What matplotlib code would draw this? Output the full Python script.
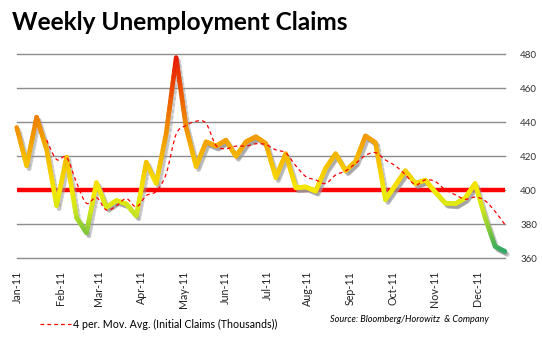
import numpy as np
import matplotlib
matplotlib.use("Agg")
import matplotlib.pyplot as plt
from matplotlib.collections import LineCollection
from matplotlib.colors import LinearSegmentedColormap, Normalize
from matplotlib.path import Path
from matplotlib.patches import PathPatch
from matplotlib.lines import Line2D
import matplotlib.patheffects as pe

# weekly initial claims (thousands), weeks ending Jan 8 .. Dec 17, 2011
claims = [437, 414.5, 443, 424, 391, 419.5, 384, 375, 404.5, 390,
          394, 392, 385, 416.5, 404, 433.5, 478, 437, 414, 428.5,
          426, 429.5, 420, 428.5, 431.5, 427.5, 407.5, 421.5, 401.5, 402,
          399.5, 413, 421.5, 411.5, 417, 432, 428, 394.5, 403, 411.5,
          404, 406, 399, 392.5, 392, 395.5, 404, 384, 367, 364]
month_labels = ["Jan-11", "Feb-11", "Mar-11", "Apr-11", "May-11", "Jun-11",
                "Jul-11", "Aug-11", "Sep-11", "Oct-11", "Nov-11", "Dec-11"]
month_pos = [0.1, 4.35, 8.25, 12.55, 16.7, 20.9, 25.1, 29.2, 33.5, 37.8, 41.95, 46.2]
yticks = [360, 380, 400, 420, 440, 460, 480]
threshold = 400

claims = np.array(claims, dtype=float)
x = np.arange(len(claims))
ma = np.convolve(claims, np.ones(4) / 4, mode="valid")
ma_x = x[3:]

plt.rcParams["font.family"] = ["Lato", "DejaVu Sans"]
fig = plt.figure(figsize=(5.42, 3.43), dpi=100)
ax = fig.add_axes([16.7 / 542, 1 - 258.3 / 343, (505 - 16.7) / 542, (258.3 - 54.3) / 343])
ax.set_xlim(0, len(claims) - 1)
ax.set_ylim(360, 480)

for v in yticks:
    ax.axhline(v, color="#8c8c8c", lw=1.0, zorder=1, clip_on=False)
ax.axhline(threshold, color="#ff0000", lw=3.2, zorder=2)

# gradient coloured main line
cmap = LinearSegmentedColormap.from_list("claims", [
    (0.0, "#1e9e78"), (0.1, "#68c043"), (0.23, "#cfe61c"), (0.33, "#f5ea00"),
    (0.46, "#f5c400"), (0.58, "#f3a000"), (0.72, "#ee7400"), (1.0, "#e51400")])
norm = Normalize(360, 480)
segs, cols = [], []
for i in range(len(claims) - 1):
    t = np.linspace(0, 1, 13)
    xs = x[i] + (x[i + 1] - x[i]) * t
    ys = claims[i] + (claims[i + 1] - claims[i]) * t
    for j in range(len(t) - 1):
        segs.append([(xs[j], ys[j]), (xs[j + 1], ys[j + 1])])
        cols.append(cmap(norm((ys[j] + ys[j + 1]) / 2)))
lc = LineCollection(segs, colors=cols, linewidths=3.3, capstyle="round",
                    joinstyle="round", zorder=4, clip_on=False)
lc.set_path_effects([pe.SimpleLineShadow(offset=(1.8, -2.2), shadow_color="#9a9a9a", alpha=0.35),
                     pe.Normal()])
ax.add_collection(lc)

# smoothed moving average (Excel style bezier)
pts = np.column_stack([ma_x, ma])
verts = [tuple(pts[0])]
codes = [Path.MOVETO]
for i in range(len(pts) - 1):
    p0 = pts[max(i - 1, 0)]
    p1, p2 = pts[i], pts[i + 1]
    p3 = pts[min(i + 2, len(pts) - 1)]
    c1 = p1 + (p2 - p0) / 6
    c2 = p2 - (p3 - p1) / 6
    verts += [tuple(c1), tuple(c2), tuple(p2)]
    codes += [Path.CURVE4] * 3
ax.add_patch(PathPatch(Path(verts, codes), fill=False, edgecolor="#ff0000",
                       lw=0.9, ls=(0, (3, 2.5)), zorder=5))

for s in ax.spines.values():
    s.set_visible(False)
ax.yaxis.tick_right()
ax.set_yticks(yticks)
ax.set_yticklabels([str(v) for v in yticks], fontsize=7, color="#333333")
ax.tick_params(axis="y", length=0, pad=11)
ax.set_xticks(month_pos)
ax.set_xticklabels(month_labels, rotation=90, fontsize=7.7, color="#222222")
ax.tick_params(axis="x", length=0, pad=9)

fig.text(12 / 542, 1 - 22 / 343, "Weekly Unemployment Claims", fontsize=17.6,
         fontweight="bold", va="center", ha="left")

handle = Line2D([], [], color="#ff0000", lw=0.9, ls=(0, (3, 2.5)))
fig.legend([handle], ["4 per. Mov. Avg. (Initial Claims (Thousands))"],
           loc="center left", bbox_to_anchor=(40 / 542, 1 - 324 / 343),
           frameon=False, fontsize=7.7, handlelength=2.9, handletextpad=0.2,
           borderaxespad=0, borderpad=0)
fig.text(330 / 542, 1 - 320 / 343, "Source: Bloomberg/Horowitz  & Company",
         fontsize=6.6, style="italic", va="center", ha="left")

fig.savefig("out.png", dpi=100)
